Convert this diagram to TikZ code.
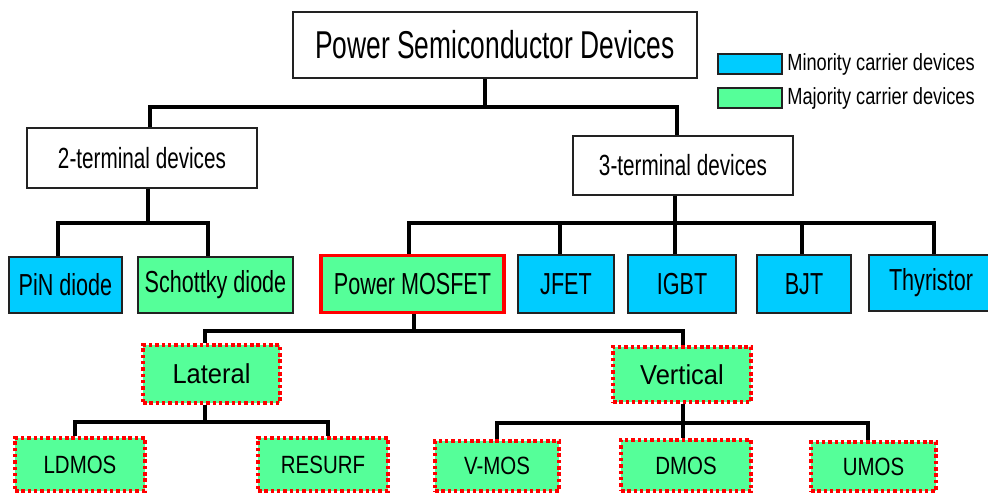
\documentclass[tikz,border=0pt]{standalone}
\usepackage{fontspec}
\usepackage{xcolor}
\usetikzlibrary{positioning}
\setmainfont{Liberation Sans}
\newfontfamily\fontTitle[FakeStretch=0.68]{Liberation Sans}
\newfontfamily\fontBox[FakeStretch=0.71]{Liberation Sans}
\newfontfamily\fontLeg[FakeStretch=0.78]{Liberation Sans}
\newfontfamily\fontLeaf[FakeStretch=0.82]{Liberation Sans}
\newfontfamily\fontKind[FakeStretch=0.93]{Liberation Sans}
\definecolor{minor}{HTML}{00CCFF}
\definecolor{major}{HTML}{55FF99}
\definecolor{rojo}{HTML}{FF0000}
\definecolor{borde}{HTML}{222222}

\begin{document}
\begin{tikzpicture}[x=0.02cm, y=-0.02cm,
  sz/.style 2 args={minimum width=#1*0.02cm, minimum height=#2*0.02cm, inner sep=0pt},
  plain/.style={draw=borde, line width=1.1pt, fill=white},
  minority/.style={draw=borde, line width=1.1pt, fill=minor},
  majority/.style={draw=borde, line width=1.1pt, fill=major},
  chosen/.style={draw=rojo, line width=2.1pt, fill=major},
  mosbox/.style={draw=rojo, line width=2.1pt, dash pattern=on 2pt off 1.6pt, fill=major},
  link/.style={draw=black, line width=2.1pt},
  fTitle/.style={font=\fontTitle\fontsize{22.1}{26}\selectfont},
  fTerm/.style={font=\fontBox\fontsize{16.6}{20}\selectfont},
  fRow/.style={font=\fontBox\fontsize{17.3}{20}\selectfont},
  fKind/.style={font=\fontKind\fontsize{15.6}{19}\selectfont},
  fLeaf/.style={font=\fontLeaf\fontsize{14.2}{17}\selectfont},
  fLeg/.style={font=\fontLeg\fontsize{13.3}{16}\selectfont}]

  \useasboundingbox (0,0) rectangle (988,493);

  % --- Raiz y dos ramas ---
  \node[plain, sz={404}{66}, fTitle] (psd) at (495,45) {Power Semiconductor Devices};
  \node[plain, sz={230}{60}, fTerm] (twoterm) at (142,158) {2-terminal devices};
  \node[plain, sz={220}{59}, fTerm] (threeterm) at (683,165.5) {3-terminal devices};

  % --- Leyenda ---
  \node[minority, sz={64}{20}] (legmin) at (750,64) {};
  \node[anchor=west, inner sep=0pt, fLeg] (legmintxt) at (787,64) {Minority carrier devices};
  \node[majority, sz={64}{20}] (legmaj) at (750,98) {};
  \node[anchor=west, inner sep=0pt, fLeg] (legmajtxt) at (787,98) {Majority carrier devices};

  % --- Dispositivos ---
  \node[minority, sz={113}{56}, fRow] (pin) at (65.5,285) {PiN diode};
  \node[majority, sz={155}{56}, fRow] (schottky) at (215.5,285) {Schottky diode};
  \node[chosen, sz={183}{57}, fRow] (mosfet) at (412.5,284) {Power MOSFET};
  \node[minority, sz={96}{58}, fRow] (jfet) at (566,284) {JFET};
  \node[minority, sz={108}{58}, fRow] (igbt) at (682,284) {IGBT};
  \node[minority, sz={94}{58}, fRow] (bjt) at (804,284) {BJT};
  \node[minority, sz={124}{56}, fRow] (thyr) at (931,283) {Thyristor};

  % --- Tipos de MOSFET ---
  \node[mosbox, sz={137}{58}, fKind] (lateral) at (211.5,374) {Lateral};
  \node[mosbox, sz={138}{55}, fKind] (vertical) at (682,374.5) {Vertical};

  \node[mosbox, sz={130}{53}, fLeaf] (ldmos) at (80,464.5) {LDMOS};
  \node[mosbox, sz={130}{53}, fLeaf] (resurf) at (323,464.5) {RESURF};
  \node[mosbox, sz={124}{50}, fLeaf] (vmos) at (497,466) {V-MOS};
  \node[mosbox, sz={130}{51}, fLeaf] (dmos) at (686,465.5) {DMOS};
  \node[mosbox, sz={125}{49}, fLeaf] (umos) at (873.5,466.5) {UMOS};

  % --- Conectores ---
  \coordinate (j0) at (485,107);
  \draw[link] (psd.south -| j0) -- (j0);
  \draw[link] (twoterm.north -| 150,0) |- (j0) -| (threeterm.north -| 677,0);

  \coordinate (j1) at (148,223);
  \draw[link] (twoterm.south -| j1) -- (j1);
  \draw[link] (pin.north -| 58,0) |- (j1) -| (schottky.north -| 208,0);

  \coordinate (j2) at (675,223);
  \draw[link] (threeterm.south -| j2) -- (igbt.north -| j2);
  \draw[link] (mosfet.north -| 409,0) |- (j2) -| (thyr.north -| 934,0);
  \draw[link] (jfet.north -| 560,0) -- (j2 -| 560,0);
  \draw[link] (bjt.north -| 802,0) -- (j2 -| 802,0);

  \coordinate (j3) at (414,331);
  \draw[link] (mosfet.south -| j3) -- (j3);
  \draw[link] (lateral.north -| 205,0) |- (j3) -| (vertical.north -| 683,0);

  \coordinate (j4) at (205,422);
  \draw[link] (lateral.south -| j4) -- (j4);
  \draw[link] (ldmos.north -| 75,0) |- (j4) -| (resurf.north -| 328,0);

  \coordinate (j5) at (683,423);
  \draw[link] (vertical.south -| j5) -- (dmos.north -| j5);
  \draw[link] (vmos.north -| 497,0) |- (j5) -| (umos.north -| 868,0);

\end{tikzpicture}
\end{document}
